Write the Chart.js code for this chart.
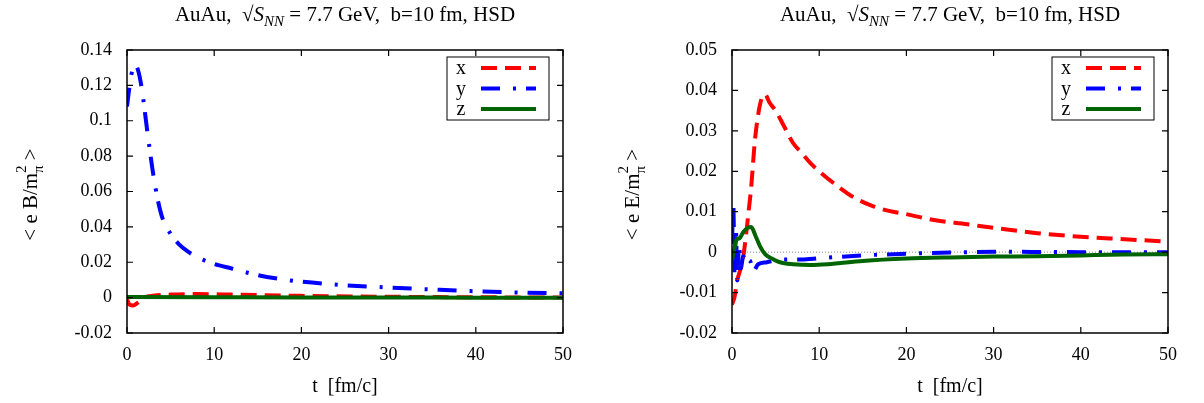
<!DOCTYPE html>
<html>
<head>
<meta charset="utf-8">
<script src="https://cdn.jsdelivr.net/npm/chart.js@4/dist/chart.umd.min.js"></script>
<style>
  html, body { margin: 0; padding: 0; background: #fff; }
  .wrap { display: flex; width: 1204px; height: 403px; }
  canvas { display: block; }
</style>
</head>
<body>
<div class="wrap">
  <canvas id="bChart" width="602" height="403"></canvas>
  <canvas id="eChart" width="602" height="403"></canvas>
</div>
<script>
// --- Data ---
const xTicks = [0, 10, 20, 30, 40, 50];

// magnetic field, left panel
const tBx = [0, 0.3, 0.7, 1.2, 2, 3, 5, 8, 12, 20, 30, 40, 50];
const Bx = [-0.001, -0.004, -0.0045, -0.003, 0, 0.001, 0.0017, 0.002, 0.0017, 0.001, 0.0005, 0.0002, 0];
const tBy = [0, 0.25, 0.5, 0.75, 1.0, 1.3, 1.6, 1.9, 2.2, 2.6, 3, 3.5, 4, 5, 6, 7, 8, 10, 12, 15, 18, 20, 25, 30, 35, 40, 45, 50];
const By = [0.108, 0.118, 0.126, 0.130, 0.131, 0.128, 0.121, 0.111, 0.099, 0.084, 0.07, 0.056, 0.046, 0.036, 0.030, 0.026, 0.023, 0.019, 0.0165, 0.0127, 0.0102, 0.009, 0.007, 0.0057, 0.0046, 0.0036, 0.0029, 0.0024];
const tBz = [0, 10, 20, 30, 40, 50];
const Bz = [0.0003, 0.0002, 0.0001, 0.0001, 0, 0];

// electric field, right panel
const tEx = [0, 0.3, 0.6, 1, 1.3, 1.6, 1.9, 2.2, 2.6, 3, 3.4, 3.8, 4.3, 5, 6, 7, 8, 9, 10, 12, 14, 16, 18, 20, 23, 27, 30, 35, 40, 45, 50];
const Ex = [-0.013, -0.011, -0.007, -0.004, -0.001, 0.004, 0.010, 0.016, 0.027, 0.034, 0.038, 0.039, 0.037, 0.035, 0.031, 0.027, 0.0245, 0.022, 0.020, 0.0165, 0.0135, 0.0115, 0.0102, 0.0094, 0.008, 0.0069, 0.006, 0.0047, 0.0038, 0.0032, 0.0026];
const tEy = [0, 0.15, 0.3, 0.45, 0.6, 0.8, 1, 1.3, 1.6, 2, 2.5, 3, 4, 5, 6, 8, 10, 12, 15, 20, 25, 30, 40, 50];
const Ey = [0.002, 0.012, -0.006, 0.006, -0.007, 0.002, -0.004, -0.001, -0.003, -0.002, -0.0045, -0.003, -0.0025, -0.002, -0.0018, -0.0018, -0.0015, -0.0012, -0.0008, -0.0004, -0.0001, 0.0001, 0, 0];
const tEz = [0, 0.2, 0.5, 0.9, 1.3, 1.8, 2.2, 2.7, 3.2, 3.8, 4.5, 5.5, 7, 9, 11, 15, 20, 25, 30, 35, 40, 45, 50];
const Ez = [-0.002, 0, 0.003, 0.0035, 0.005, 0.006, 0.0062, 0.004, 0.0015, -0.0005, -0.0015, -0.0025, -0.003, -0.0032, -0.003, -0.0022, -0.0016, -0.0013, -0.0011, -0.001, -0.0008, -0.0006, -0.0005];

const seriesNames = ['x', 'y', 'z'];
const FONT = '"Liberation Serif", "Times New Roman", serif';

// --- helpers ---
const pts = (ts, vs) => ts.map((t, i) => ({ x: t, y: vs[i] }));
const styles = [
  { color: '#ff0000', dash: [16, 8] },
  { color: '#0000ff', dash: [19, 13, 3, 10] },
  { color: '#006400', dash: [] }
];

function drawParts(ctx, parts, x, y) {
  // parts: {t, f, dy, stack}
  let cx = x;
  parts.forEach(p => {
    ctx.font = p.f;
    ctx.fillText(p.t, cx, y + (p.dy || 0));
    if (!p.stack) cx += ctx.measureText(p.t).width;
  });
}
function partsWidth(ctx, parts) {
  let w = 0;
  parts.forEach(p => { ctx.font = p.f; if (!p.stack) w += ctx.measureText(p.t).width; });
  return w;
}

const framePlugin = {
  id: 'frame',
  beforeDatasetsDraw(chart) {
    const { ctx, chartArea: a, scales } = chart;
    const y0 = scales.y.getPixelForValue(0);
    ctx.save();
    ctx.strokeStyle = '#888';
    ctx.lineWidth = 1;
    ctx.setLineDash([1, 2]);
    ctx.beginPath();
    ctx.moveTo(a.left, y0);
    ctx.lineTo(a.right, y0);
    ctx.stroke();
    ctx.restore();
  },
  afterDatasetsDraw(chart, args, opts) {
    const { ctx, chartArea: a, scales } = chart;
    ctx.save();
    ctx.strokeStyle = '#000';
    ctx.lineWidth = 1.5;
    ctx.setLineDash([]);
    ctx.strokeRect(a.left, a.top, a.right - a.left, a.bottom - a.top);
    const tl = 6;
    ctx.lineWidth = 1.2;
    ctx.beginPath();
    scales.x.ticks.forEach(t => {
      const px = scales.x.getPixelForValue(t.value);
      ctx.moveTo(px, a.bottom); ctx.lineTo(px, a.bottom - tl);
      ctx.moveTo(px, a.top); ctx.lineTo(px, a.top + tl);
    });
    scales.y.ticks.forEach(t => {
      const py = scales.y.getPixelForValue(t.value);
      ctx.moveTo(a.left, py); ctx.lineTo(a.left + tl, py);
      ctx.moveTo(a.right, py); ctx.lineTo(a.right - tl, py);
    });
    ctx.stroke();

    // legend box
    const bw = 102, bh = 63;
    const bx = a.right - 14 - bw, by = a.top + 7;
    ctx.fillStyle = '#fff';
    ctx.fillRect(bx, by, bw, bh);
    ctx.lineWidth = 1;
    ctx.strokeStyle = '#000';
    ctx.strokeRect(bx, by, bw, bh);
    ctx.font = '20px ' + FONT;
    ctx.textAlign = 'center';
    ctx.textBaseline = 'middle';
    seriesNames.forEach((n, i) => {
      const ry = by + 11 + i * 20.5;
      ctx.fillStyle = '#000';
      ctx.fillText(n, bx + 14, ry + 1);
      ctx.strokeStyle = styles[i].color;
      ctx.lineWidth = 4;
      ctx.setLineDash(styles[i].dash);
      ctx.beginPath();
      ctx.moveTo(bx + 34, ry);
      ctx.lineTo(bx + 89, ry);
      ctx.stroke();
    });
    ctx.setLineDash([]);

    // title
    ctx.fillStyle = '#000';
    ctx.textAlign = 'left';
    ctx.textBaseline = 'alphabetic';
    const tparts = [
      { t: 'AuAu,  \u221A', f: '21px ' + FONT },
      { t: 'S', f: 'italic 21px ' + FONT },
      { t: 'NN', f: 'italic 15px ' + FONT, dy: 5 },
      { t: ' = 7.7 GeV,  b=10 fm, HSD', f: '21px ' + FONT }
    ];
    const cx = (a.left + a.right) / 2;
    drawParts(ctx, tparts, cx - partsWidth(ctx, tparts) / 2, 21);

    // x label
    ctx.font = '20px ' + FONT;
    ctx.textAlign = 'center';
    ctx.fillText('t  [fm/c]', cx, 392);

    // y label (rotated)
    const q = opts.q;
    const lparts = [
      { t: '< e ' + q + '/m', f: '21px ' + FONT },
      { t: '\u03C0', f: '15px ' + FONT, dy: 6, stack: true },
      { t: '2', f: '15px ' + FONT, dy: -11 },
      { t: ' >', f: '21px ' + FONT }
    ];
    ctx.textAlign = 'left';
    ctx.translate(37, (a.top + a.bottom) / 2 + 3);
    ctx.rotate(-Math.PI / 2);
    drawParts(ctx, lparts, -partsWidth(ctx, lparts) / 2, 0);
    ctx.restore();
  }
};

function makeChart(id, data, yMin, yMax, yStep, yWidth, rightPad, q) {
  const sets = data.map((d, i) => ({
    label: seriesNames[i],
    data: d,
    borderColor: styles[i].color,
    borderDash: styles[i].dash,
    borderWidth: 4,
    borderCapStyle: 'butt',
    pointRadius: 0,
    cubicInterpolationMode: 'monotone',
    fill: false,
    order: 3 - i
  }));
  return new Chart(document.getElementById(id), {
    type: 'line',
    data: { datasets: sets },
    plugins: [framePlugin],
    options: {
      responsive: false,
      animation: false,
      events: [],
      layout: { padding: { top: 50, right: rightPad, left: 0, bottom: 0 } },
      plugins: { legend: { display: false }, tooltip: { enabled: false }, frame: { q } },
      scales: {
        x: {
          type: 'linear', min: 0, max: 50,
          afterBuildTicks: s => { s.ticks = xTicks.map(v => ({ value: v })); },
          grid: { display: false, drawTicks: false },
          border: { display: false },
          ticks: { color: '#000', font: { family: FONT, size: 18 }, padding: 11, maxRotation: 0 },
          afterFit: s => { s.height = 70; }
        },
        y: {
          type: 'linear', min: yMin, max: yMax,
          ticks: {
            stepSize: yStep, color: '#000', font: { family: FONT, size: 18 }, padding: 15,
            callback: v => String(+v.toFixed(3))
          },
          grid: { display: false, drawTicks: false },
          border: { display: false },
          afterFit: s => { s.width = yWidth; }
        }
      }
    }
  });
}

makeChart('bChart', [pts(tBx, Bx), pts(tBy, By), pts(tBz, Bz)], -0.02, 0.14, 0.02, 127, 39, 'B');
makeChart('eChart', [pts(tEx, Ex), pts(tEy, Ey), pts(tEz, Ez)], -0.02, 0.05, 0.01, 130, 36, 'E');
</script>
</body>
</html>
